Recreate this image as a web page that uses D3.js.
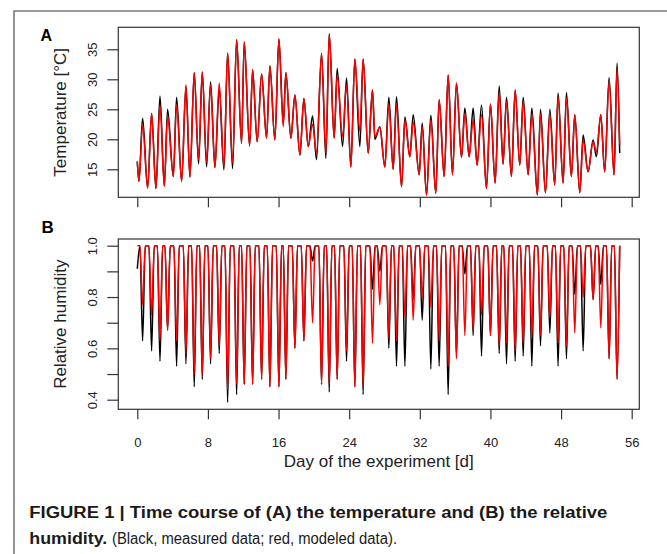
<!DOCTYPE html>
<html>
<head>
<meta charset="utf-8">
<script src="https://cdn.jsdelivr.net/npm/d3@7"></script>
<style>
    body { margin: 0; background: #fff; }
    svg { display: block; font-family: "Liberation Sans", Arial, sans-serif; }
</style>
</head>
<body>
<div id="stage"></div>
<script>
(function(d3) {
    'use strict';

    // temperature: alternating troughs and peaks
    var tempDays = [0.00, 0.19, 0.60, 1.17, 1.62, 2.11, 2.57, 3.06, 3.43, 4.08, 4.45, 5.02, 5.51, 5.96,
        6.45, 6.94, 7.36, 7.85, 8.30, 8.79, 9.28, 9.81, 10.23, 10.79, 11.25, 11.81, 12.11, 12.72,
        13.06, 13.58, 14.08, 14.64, 15.02, 15.58, 16.04, 16.53, 16.83, 17.40, 17.85, 18.42, 18.87,
        19.36, 19.85, 20.30, 20.87, 21.36, 21.74, 22.30, 22.64, 23.25, 23.70, 24.19, 24.64, 25.21,
        25.58, 26.15, 26.64, 26.91, 27.47, 28.04, 28.49, 28.98, 29.36, 29.93, 30.31, 30.87, 31.25,
        31.93, 32.27, 32.76, 33.25, 33.81, 34.19, 34.76, 35.21, 35.70, 36.15, 36.72, 37.10, 37.59,
        38.04, 38.49, 38.99, 39.55, 40.00, 40.53, 40.99, 41.43, 41.82, 42.38, 42.80, 43.32, 43.71,
        44.27, 44.69, 45.32, 45.67, 46.23, 46.73, 47.28, 47.66, 48.23, 48.61, 49.17, 49.55, 50.12,
        50.50, 51.06, 51.63, 52.00, 52.50, 52.94, 53.44, 54.00, 54.34, 54.64];
    var tempMeasured = [16.3, 13.0, 23.5, 11.9, 24.3, 11.8, 27.2, 12.2, 25.0, 13.8, 27.0, 13.0, 28.8, 13.7,
        31.1, 15.9, 31.2, 15.4, 29.6, 15.3, 28.3, 14.9, 34.4, 15.1, 36.6, 19.3, 36.2, 18.9,
        31.6, 19.6, 30.9, 20.2, 32.2, 19.9, 36.7, 22.6, 31.1, 20.2, 27.4, 17.4, 26.8,
        18.8, 23.9, 16.6, 34.3, 16.8, 37.6, 20.2, 31.8, 18.8, 30.2, 15.4, 33.4, 18.8,
        33.4, 17.7, 28.2, 20.0, 22.1, 15.4, 27.0, 15.0, 27.1, 12.1, 23.7, 17.1, 24.1,
        14.1, 22.7, 10.7, 24.0, 11.0, 26.6, 13.8, 30.7, 14.1, 29.4, 17.0, 25.2, 17.1,
        25.2, 15.7, 25.7, 11.8, 25.9, 12.7, 28.9, 15.9, 27.0, 13.8, 28.2, 15.7, 27.0,
        14.1, 25.2, 10.7, 25.0, 11.1, 25.0, 12.4, 27.7, 12.7, 27.8, 13.8, 24.1, 11.1,
        20.7, 14.6, 19.9, 17.1, 24.1, 14.6, 30.3, 14.1, 32.7, 17.7];
    var tempModeled = [16.3, 13.0, 22.4, 11.9, 24.3, 11.8, 25.7, 12.2, 23.8, 13.8, 25.7, 13.0, 29.1, 13.7,
        31.1, 16.6, 31.2, 16.2, 29.1, 15.3, 29.4, 15.4, 34.4, 16.1, 36.6, 19.3, 36.2, 18.9,
        31.6, 19.6, 30.9, 20.2, 32.2, 19.9, 36.7, 22.1, 31.1, 20.2, 27.4, 17.4, 26.8,
        18.8, 22.5, 17.7, 34.3, 17.7, 37.6, 20.2, 30.7, 20.4, 29.1, 15.4, 33.4, 21.3,
        33.4, 17.7, 28.2, 20.4, 22.0, 15.4, 25.7, 15.0, 25.7, 12.1, 23.2, 17.1, 22.9,
        14.1, 22.1, 10.7, 23.2, 11.0, 26.6, 13.8, 30.7, 14.1, 29.4, 17.0, 24.3, 17.1,
        23.2, 15.7, 24.1, 11.8, 25.9, 12.7, 27.9, 15.9, 26.3, 13.8, 28.2, 15.7, 26.3,
        14.1, 24.1, 10.7, 24.3, 11.1, 24.1, 12.4, 27.1, 12.7, 27.0, 13.8, 24.1, 11.1,
        19.9, 14.6, 19.6, 17.9, 24.1, 14.6, 29.6, 14.1, 31.7, 19.1];

    // relative humidity: daily minima (saturated at 1.0 in between)
    var rhDays = [0.60, 1.62, 2.57, 3.43, 4.45, 5.51, 6.45, 7.36, 8.30, 9.28, 10.23, 11.25, 12.11,
        13.06, 14.08, 15.02, 16.04, 16.83, 17.85, 18.87, 19.85, 20.87, 21.74, 22.64, 23.70, 24.64,
        25.58, 26.64, 27.47, 28.49, 29.36, 30.31, 31.25, 32.27, 33.25, 34.19, 35.21, 36.15, 37.10,
        38.04, 38.99, 40.00, 40.99, 41.82, 42.80, 43.71, 44.69, 45.67, 46.73, 47.66, 48.61, 49.55,
        50.50, 51.63, 52.50, 53.44, 54.34];
    var rhMeasured = [0.63, 0.59, 0.55, 0.67, 0.53, 0.54, 0.45, 0.48, 0.54, 0.58, 0.39, 0.42, 0.46,
        0.46, 0.48, 0.45, 0.45, 0.48, 0.60, 0.63, 0.94, 0.46, 0.43, 0.48, 0.55, 0.45,
        0.42, 0.83, 0.90, 0.60, 0.53, 0.53, 0.79, 0.71, 0.52, 0.53, 0.42, 0.57, 0.89,
        0.65, 0.57, 0.65, 0.58, 0.54, 0.55, 0.57, 0.53, 0.61, 0.66, 0.53, 0.56, 0.81,
        0.59, 0.79, 0.85, 0.56, 0.48];
    var rhModeled = [0.77, 0.73, 0.63, 0.67, 0.63, 0.58, 0.50, 0.50, 0.56, 0.61, 0.44, 0.46, 0.46,
        0.46, 0.48, 0.45, 0.45, 0.48, 0.60, 0.63, 0.70, 0.46, 0.46, 0.48, 0.59, 0.45,
        0.45, 0.62, 0.77, 0.64, 0.63, 0.72, 0.71, 0.79, 0.76, 0.63, 0.53, 0.56, 0.65,
        0.67, 0.73, 0.65, 0.61, 0.62, 0.59, 0.62, 0.64, 0.65, 0.72, 0.62, 0.61, 0.66,
        0.80, 0.79, 0.68, 0.56, 0.48];
    var rhStartDay = 0, rhEndDay = 54.64;
    var rhStartMeasured = 0.91, rhStartModeled = 1.0;
    var rhSaturation = 1.0;
    var dipHalfWidth = 0.3;

    var dayTicks = [0, 8, 16, 24, 32, 40, 48, 56];
    var tempTicks = [15, 20, 25, 30, 35];
    var rhTicks = [0.4, 0.5, 0.6, 0.7, 0.8, 0.9, 1.0];
    var rhTickLabels = ['0.4', '', '0.6', '', '0.8', '', '1.0'];

    var width = 667, height = 554,
        boxLeft = 118.3, boxRight = 639.3,
        aTop = 27.3, aBottom = 197.3,
        bTop = 239, bBottom = 409.3;

    var svg = d3.select('#stage')
        .append('svg')
        .attr('width', width)
        .attr('height', height);

    // figure frame
    svg.append('path')
        .attr('d', 'M' + width + ',11H14V' + height)
        .style('fill', 'none')
        .style('stroke', '#7a7a7a')
        .style('stroke-width', 1.6);

    var x = d3.scaleLinear().domain([0, 56]).range([137.3, 631.7]);
    var yT = d3.scaleLinear().domain([15, 35]).range([169.3, 49.3]);
    var yH = d3.scaleLinear().domain([0.4, 1.0]).range([399.7, 245.7]);

    function series(days, values) {
        return days.map(function(d, i) { return [d, values[i]]; });
    }

    function rhSeries(start, minima) {
        var pts = [[rhStartDay, start]];
        rhDays.forEach(function(d, i) {
            pts.push([d - dipHalfWidth, rhSaturation]);
            pts.push([d, minima[i]]);
            pts.push([d + dipHalfWidth, rhSaturation]);
        });
        pts.push([rhEndDay, rhSaturation]);
        return pts;
    }

    function drawPanel(top, bottom, y, ticks, tickLabels, lines, showDays) {
        var g = svg.append('g');

        lines.forEach(function(l) {
            g.append('path')
                .datum(l.data)
                .attr('d', d3.line()
                    .x(function(p) { return x(p[0]); })
                    .y(function(p) { return y(p[1]); })
                    .curve(d3.curveMonotoneX))
                .style('fill', 'none')
                .style('stroke', l.color)
                .style('stroke-width', 1.5)
                .style('stroke-linejoin', 'round');
        });

        g.append('rect')
            .attr('x', boxLeft)
            .attr('y', top)
            .attr('width', boxRight - boxLeft)
            .attr('height', bottom - top)
            .style('fill', 'none')
            .style('stroke', '#333')
            .style('stroke-width', 1.2);

        var xAxis = g.append('g')
            .attr('transform', 'translate(0,' + bottom + ')')
            .call(d3.axisBottom(x).tickValues(dayTicks).tickSize(10)
                .tickFormat(showDays ? d3.format('d') : function() { return ''; }));
        xAxis.select('.domain').remove();
        xAxis.selectAll('line').style('stroke', '#333').style('stroke-width', 1.2);
        xAxis.selectAll('text')
            .attr('y', 38)
            .attr('dy', 0)
            .style('font-family', '"Liberation Sans", Arial, sans-serif')
            .style('font-size', '13px')
            .style('fill', '#222');

        var yAxis = g.append('g')
            .attr('transform', 'translate(' + boxLeft + ',0)')
            .call(d3.axisLeft(y).tickValues(ticks).tickSize(11)
                .tickFormat(function(v, i) { return tickLabels[i]; }));
        yAxis.select('.domain').remove();
        yAxis.selectAll('line').style('stroke', '#333').style('stroke-width', 1.2);
        yAxis.selectAll('text')
            .attr('transform', 'rotate(-90)')
            .attr('x', 0)
            .attr('y', -21)
            .attr('dy', 0)
            .style('text-anchor', 'middle')
            .style('font-family', '"Liberation Sans", Arial, sans-serif')
            .style('font-size', '13px')
            .style('fill', '#222');
        return g;
    }

    drawPanel(aTop, aBottom, yT, tempTicks, tempTicks.map(String), [
        {data: series(tempDays, tempMeasured), color: '#000'},
        {data: series(tempDays, tempModeled), color: '#ff0000'}
    ], false);

    drawPanel(bTop, bBottom, yH, rhTicks, rhTickLabels, [
        {data: rhSeries(rhStartMeasured, rhMeasured), color: '#000'},
        {data: rhSeries(rhStartModeled, rhModeled), color: '#ff0000'}
    ], true);

    // axis titles and panel letters
    svg.append('text')
        .attr('transform', 'translate(65.5,' + ((aTop + aBottom) / 2) + ') rotate(-90)')
        .style('text-anchor', 'middle')
        .style('font-size', '17px')
        .style('fill', '#222')
        .text('Temperature [°C]');

    svg.append('text')
        .attr('transform', 'translate(65.5,' + ((bTop + bBottom) / 2) + ') rotate(-90)')
        .style('text-anchor', 'middle')
        .style('font-size', '17px')
        .style('fill', '#222')
        .text('Relative humidity');

    svg.append('text')
        .attr('x', (boxLeft + boxRight) / 2)
        .attr('y', 466.7)
        .style('text-anchor', 'middle')
        .style('font-size', '17px')
        .style('fill', '#222')
        .text('Day of the experiment [d]');

    svg.append('text')
        .attr('x', 40.5).attr('y', 40.7)
        .style('font-size', '16px').style('font-weight', 'bold')
        .text('A');
    svg.append('text')
        .attr('x', 41.5).attr('y', 233.3)
        .style('font-size', '17px').style('font-weight', 'bold')
        .text('B');

    // caption
    svg.append('text')
        .attr('x', 29.3).attr('y', 518.3)
        .attr('textLength', 578).attr('lengthAdjust', 'spacingAndGlyphs')
        .style('font-size', '16px').style('font-weight', 'bold')
        .style('fill', '#1a1a1a')
        .text('FIGURE 1 | Time course of (A) the temperature and (B) the relative');
    svg.append('text')
        .attr('x', 29.3).attr('y', 544)
        .attr('textLength', 78).attr('lengthAdjust', 'spacingAndGlyphs')
        .style('font-size', '16px').style('font-weight', 'bold')
        .style('fill', '#1a1a1a')
        .text('humidity.');
    svg.append('text')
        .attr('x', 112).attr('y', 544)
        .attr('textLength', 285).attr('lengthAdjust', 'spacingAndGlyphs')
        .style('font-size', '16px')
        .style('fill', '#1a1a1a')
        .text('(Black, measured data; red, modeled data).');

})(window.d3);
</script>
</body>
</html>
